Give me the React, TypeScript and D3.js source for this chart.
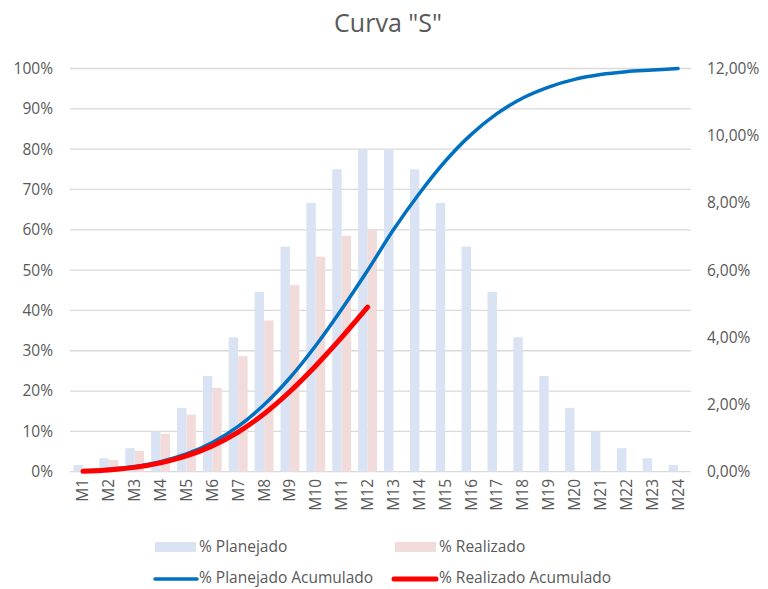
import React from 'react'
import { scaleBand, scaleLinear, line, curveCatmullRom } from 'd3'

// categories and values
const months = ['M1', 'M2', 'M3', 'M4', 'M5', 'M6', 'M7', 'M8', 'M9', 'M10', 'M11', 'M12',
  'M13', 'M14', 'M15', 'M16', 'M17', 'M18', 'M19', 'M20', 'M21', 'M22', 'M23', 'M24']

// bars, right axis (%)
const planejado = [0.2, 0.4, 0.7, 1.2, 1.9, 2.85, 4.0, 5.35, 6.7, 8.0, 9.0, 9.6,
  9.6, 9.0, 8.0, 6.7, 5.35, 4.0, 2.85, 1.9, 1.2, 0.7, 0.4, 0.2]
const realizado = [0.1, 0.35, 0.62, 1.13, 1.7, 2.5, 3.44, 4.5, 5.56, 6.4, 7.02, 7.2]

// lines, left axis (%)
const planejadoAcum = [0.2, 0.6, 1.3, 2.5, 4.4, 7.25, 11.25, 16.6, 23.3, 31.3, 40.3, 49.9,
  60, 69, 77, 83.6, 88.8, 92.7, 95.4, 97.3, 98.5, 99.2, 99.6, 100]
const realizadoAcum = [0.1, 0.45, 1.07, 2.2, 3.9, 6.4, 9.84, 14.34, 19.9, 26.3, 33.32, 40.8]

const leftTicks = [0, 10, 20, 30, 40, 50, 60, 70, 80, 90, 100]
const rightTicks = [0, 2, 4, 6, 8, 10, 12]

const font = '"Open Sans", "Noto Sans", sans-serif'
const grey = '#595959'
const fs = 15.5

function App() {
  const W = 768, H = 589
  const left = 70, right = 691, top = 68.5, bottom = 471.7

  const x = scaleBand().domain(months).range([left, right]).paddingInner(0.27).paddingOuter(0.135)
  const sub = scaleBand().domain(['p', 'r']).range([0, x.bandwidth()])
  const yL = scaleLinear().domain([0, 100]).range([bottom, top])
  const yR = scaleLinear().domain([0, 12]).range([bottom, top])

  const cx = (i: number) => (x(months[i]) as number) + x.bandwidth() / 2
  const mkLine = line<number>().x((d, i) => cx(i)).y(d => yL(d)).curve(curveCatmullRom.alpha(0.5))

  const fmtR = (v: number) => v.toFixed(2).replace('.', ',') + '%'

  return (
    <svg width={W} height={H} style={{ position: 'absolute', left: 0, top: 0, background: '#fff' }}
      fontFamily={font}>
      <text x={388} y={32} textAnchor="middle" fontSize={25} fill={grey}>Curva "S"</text>

      {leftTicks.map(t => (
        <g key={'g' + t}>
          <line x1={left} x2={right} y1={yL(t)} y2={yL(t)} stroke="#D9D9D9" strokeWidth={1.3} />
          <text x={53} y={yL(t)} dy="0.35em" textAnchor="end" fontSize={fs} fill={grey}>{t}%</text>
        </g>
      ))}
      {rightTicks.map(t => (
        <text key={'r' + t} x={707} y={yR(t)} dy="0.35em" fontSize={fs} fill={grey}>{fmtR(t)}</text>
      ))}

      {planejado.map((v, i) => (
        <rect key={'p' + i} x={(x(months[i]) as number) + (sub('p') as number)} width={sub.bandwidth()}
          y={yR(v)} height={yR(0) - yR(v)} fill="#DAE3F3" />
      ))}
      {realizado.map((v, i) => (
        <rect key={'re' + i} x={(x(months[i]) as number) + (sub('r') as number)} width={sub.bandwidth()}
          y={yR(v)} height={yR(0) - yR(v)} fill="#F2DCDB" />
      ))}

      <path d={mkLine(planejadoAcum) as string} fill="none" stroke="#0070C0" strokeWidth={3.5} strokeLinecap="round" />
      <path d={mkLine(realizadoAcum) as string} fill="none" stroke="#FF0000" strokeWidth={5} strokeLinecap="round" />

      {months.map((m, i) => (
        <text key={m} transform={`translate(${cx(i) + 5.5},479) rotate(-90)`} textAnchor="end"
          fontSize={fs} fill={grey}>{m}</text>
      ))}

      {/* legend */}
      <rect x={155} y={542} width={41} height={10} fill="#DAE3F3" />
      <text x={199} y={547} dy="0.35em" fontSize={15.5} fill={grey}>% Planejado</text>
      <rect x={395} y={542} width={41} height={10} fill="#F2DCDB" />
      <text x={439} y={547} dy="0.35em" fontSize={15.5} fill={grey}>% Realizado</text>
      <line x1={155} x2={197} y1={579} y2={579} stroke="#0070C0" strokeWidth={3.5} strokeLinecap="round" />
      <text x={199} y={578} dy="0.35em" fontSize={15.5} fill={grey}>% Planejado Acumulado</text>
      <line x1={394} x2={436} y1={579} y2={579} stroke="#FF0000" strokeWidth={5} strokeLinecap="round" />
      <text x={439} y={578} dy="0.35em" fontSize={15.5} fill={grey}>% Realizado Acumulado</text>
    </svg>
  )
}

export default App
